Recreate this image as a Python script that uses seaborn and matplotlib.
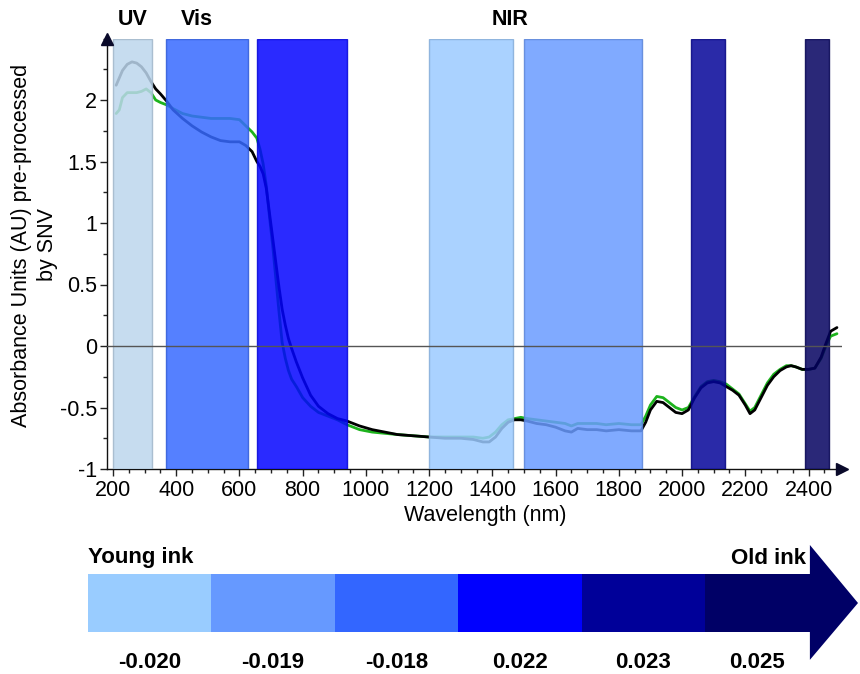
import numpy as np
import pandas as pd
import matplotlib
matplotlib.use("Agg")
import matplotlib.pyplot as plt
from matplotlib.ticker import MultipleLocator, FuncFormatter
import matplotlib.colors as mcolors
import seaborn as sns

# ---------------- data ----------------
wavelength = [210, 220, 230, 245, 260, 275, 290, 305, 320, 335, 350, 370, 390, 420, 450,
              480, 510, 540, 570, 600, 620, 640, 655, 665, 675, 685, 695, 705, 715, 725,
              735, 745, 755, 765, 780, 800, 825, 850, 880, 910, 940, 980, 1020, 1060, 1100,
              1150, 1200, 1250, 1300, 1340, 1370, 1390, 1410, 1430, 1450, 1470, 1490, 1510,
              1540, 1570, 1600, 1630, 1650, 1670, 1700, 1730, 1760, 1800, 1840, 1870, 1885,
              1900, 1920, 1940, 1960, 1980, 2000, 2020, 2040, 2060, 2080, 2100, 2120, 2140,
              2160, 2180, 2200, 2215, 2230, 2250, 2270, 2290, 2310, 2330, 2345, 2360, 2380,
              2400, 2420, 2440, 2455, 2470, 2490]

spectrum_black = [2.12, 2.18, 2.24, 2.29, 2.31, 2.30, 2.27, 2.22, 2.15, 2.09, 2.05, 1.99, 1.92, 1.85, 1.79,
                  1.74, 1.70, 1.67, 1.66, 1.66, 1.63, 1.58, 1.50, 1.46, 1.40, 1.28, 1.08, 0.88, 0.68, 0.48,
                  0.30, 0.17, 0.06, -0.02, -0.13, -0.26, -0.40, -0.49, -0.55, -0.59, -0.61, -0.65, -0.68, -0.70, -0.72,
                  -0.73, -0.74, -0.75, -0.75, -0.76, -0.78, -0.78, -0.74, -0.67, -0.62, -0.60, -0.60, -0.61,
                  -0.63, -0.64, -0.66, -0.69, -0.70, -0.67, -0.68, -0.68, -0.69, -0.68, -0.69, -0.69, -0.62,
                  -0.52, -0.45, -0.46, -0.50, -0.54, -0.55, -0.52, -0.42, -0.34, -0.30, -0.29, -0.30, -0.33,
                  -0.36, -0.40, -0.48, -0.55, -0.52, -0.42, -0.32, -0.25, -0.20, -0.17, -0.16, -0.17, -0.19,
                  -0.19, -0.18, -0.09, 0.02, 0.12, 0.15]

spectrum_green = [1.89, 1.92, 2.02, 2.06, 2.06, 2.06, 2.07, 2.09, 2.06, 2.00, 1.98, 1.96, 1.93, 1.89, 1.87,
                  1.86, 1.85, 1.85, 1.85, 1.84, 1.79, 1.74, 1.69, 1.60, 1.48, 1.30, 1.05, 0.82, 0.55, 0.28,
                  0.03, -0.10, -0.20, -0.27, -0.33, -0.42, -0.49, -0.54, -0.57, -0.60, -0.64, -0.68, -0.70, -0.71, -0.72,
                  -0.73, -0.74, -0.74, -0.74, -0.74, -0.75, -0.74, -0.70, -0.64, -0.60, -0.59, -0.58, -0.59,
                  -0.60, -0.61, -0.62, -0.63, -0.65, -0.63, -0.63, -0.63, -0.64, -0.63, -0.64, -0.64, -0.57,
                  -0.48, -0.41, -0.42, -0.46, -0.50, -0.52, -0.50, -0.41, -0.33, -0.29, -0.28, -0.29, -0.31,
                  -0.35, -0.39, -0.47, -0.53, -0.50, -0.40, -0.30, -0.23, -0.19, -0.16, -0.16, -0.17, -0.19,
                  -0.19, -0.18, -0.10, 0.00, 0.08, 0.10]

band_start = [200, 367, 655, 1201, 1501, 2028, 2388]
band_end = [323, 626, 939, 1466, 1874, 2136, 2464]
band_seen_colors = ["#c6dcf0", "#5580ff", "#2a2aff", "#aad2ff", "#80aaff", "#2a2aa8", "#2a2878"]

region_labels = ["UV", "Vis", "NIR"]
region_label_x = [263, 465, 1457]

scale_values = ["-0.020", "-0.019", "-0.018", "0.022", "0.023", "0.025"]
scale_colors = ["#99ccff", "#6699ff", "#3366ff", "#0000ff", "#000099", "#000066"]

# ---------------- style ----------------
sns.set_style("ticks")
plt.rcParams["font.family"] = ["Liberation Sans", "DejaVu Sans"]
plt.rcParams["axes.unicode_minus"] = False
plt.rcParams["text.color"] = "black"
plt.rcParams["axes.labelcolor"] = "black"
plt.rcParams["xtick.color"] = "black"
plt.rcParams["ytick.color"] = "black"

W, H = 860, 674
fig = plt.figure(figsize=(W / 100, H / 100), dpi=100)

ax_l, ax_r, ax_t, ax_b = 107, 842, 38.5, 469
ax = fig.add_axes([ax_l / W, 1 - ax_b / H, (ax_r - ax_l) / W, (ax_b - ax_t) / H])

n = len(wavelength)
df = pd.DataFrame({
    "Wavelength": wavelength * 2,
    "Absorbance": spectrum_green + spectrum_black,
    "Sample": ["green"] * n + ["black"] * n,
})
sns.lineplot(data=df, x="Wavelength", y="Absorbance", hue="Sample",
             hue_order=["green", "black"],
             palette={"green": "#1db31d", "black": "#000000"},
             estimator=None, linewidth=2, legend=False, ax=ax, zorder=2)

alpha = 0.85
for s, e, c in zip(band_start, band_end, band_seen_colors):
    rgb = np.array(mcolors.to_rgb(c))
    base = np.clip((rgb - (1 - alpha)) / alpha, 0, 1)
    edge = np.clip(base * 0.85, 0, 1)
    ax.axvspan(s, e, facecolor=base, edgecolor=edge, linewidth=1, alpha=alpha, zorder=3)

ax.axhline(0, color="#555555", linewidth=1, zorder=4)

px_per_nm = (808.5 - 113) / 2200
x0 = 200 - (113 - ax_l) / px_per_nm
x1 = x0 + (ax_r - ax_l) / px_per_nm
ax.set_xlim(x0, x1)
ax.set_ylim(-1, 2.5)

ax.xaxis.set_major_locator(MultipleLocator(200))
ax.xaxis.set_minor_locator(MultipleLocator(50))
ax.set_yticks([-1, -0.5, 0, 0.5, 1, 1.5, 2])
ax.yaxis.set_minor_locator(MultipleLocator(0.25))
ax.yaxis.set_major_formatter(FuncFormatter(lambda v, p: f"{v:g}"))
ax.tick_params(which="major", length=5, width=1, labelsize=15.5, pad=2, color="#222222", labelcolor="black")
ax.tick_params(which="minor", length=3, width=1, color="#222222")
ax.tick_params(axis="x", pad=3)
for sp in ["top", "right"]:
    ax.spines[sp].set_visible(False)
for sp in ["left", "bottom"]:
    ax.spines[sp].set_color("#111111")
    ax.spines[sp].set_linewidth(1)
ax.set_xlabel("")
ax.set_ylabel("")

ax.plot([1], [0], marker=">", markersize=9, color="#0a0a2a", transform=ax.transAxes, clip_on=False, zorder=6)
ax.plot([0], [1], marker="^", markersize=9, color="#0a0a2a", transform=ax.transAxes, clip_on=False, zorder=6)

for lbl, xv in zip(region_labels, region_label_x):
    ax.text(xv, 1.043, lbl, transform=ax.get_xaxis_transform(), ha="center", va="center",
            fontsize=15.5, fontweight="bold", color="black")

fig.text(485 / W, 1 - 516 / H, "Wavelength (nm)", ha="center", va="center", fontsize=15.5, color="black")
fig.text(34.5 / W, 1 - 245 / H, "Absorbance Units (AU) pre-processed\nby SNV", ha="center",
         va="center", rotation=90, fontsize=15.5, linespacing=1.35, multialignment="center", color="black")

# ---------------- bottom age scale ----------------
ax2 = fig.add_axes([88 / W, 0, (W - 88) / W, 134 / H])
unit = 123.4
ax2.set_xlim(0, (W - 88) / unit)
ax2.set_ylim(-71 / 58, 63 / 58)
ax2.axis("off")

widths = [1.0] * (len(scale_values) - 1) + [0.85]
lefts = list(range(len(scale_values)))
ax2.barh(y=0, width=widths, left=lefts, height=1.0, color=scale_colors, linewidth=0)
shaft_end = lefts[-1] + widths[-1]
ax2.fill([shaft_end, (858 - 88) / unit, shaft_end], [1.0, 0, -0.98], color=scale_colors[-1], linewidth=0)

for left, w, lbl in zip(lefts, widths, scale_values):
    ax2.text(left + w / 2, -60 / 58, lbl, ha="center", va="center", fontsize=16, fontweight="bold", color="black")
ax2.text(0, 45 / 58, "Young ink", ha="left", va="center", fontsize=16, fontweight="bold", color="black")
ax2.text(shaft_end - 0.03, 45 / 58, "Old ink", ha="right", va="center", fontsize=16, fontweight="bold", color="black")

fig.savefig("out.png", dpi=100)
